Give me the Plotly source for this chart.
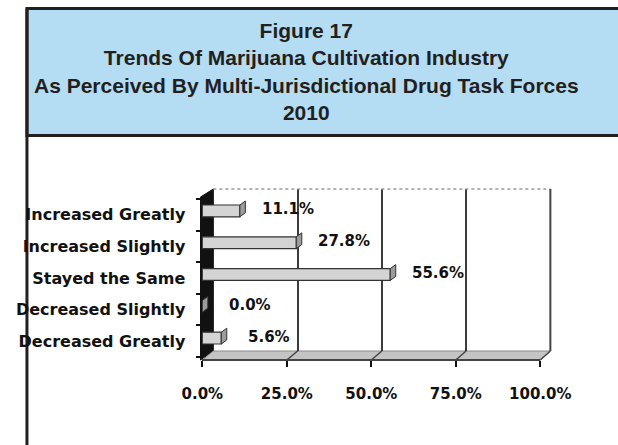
import plotly.graph_objects as go

# ---------------- data ----------------
categories = ["Increased Greatly", "Increased Slightly", "Stayed the Same",
              "Decreased Slightly", "Decreased Greatly"]
values = [11.1, 27.8, 55.6, 0.0, 5.6]          # percent
tick_values = [0, 25, 50, 75, 100]
tick_labels = ["0.0%", "25.0%", "50.0%", "75.0%", "100.0%"]
title_lines = ["Figure 17",
               "Trends Of Marijuana Cultivation Industry",
               "As Perceived By Multi-Jurisdictional Drug Task Forces",
               "2010"]

# ---------------- geometry helpers (pixels -> paper) ----------------
W, H = 618, 445
def px(x):
    return x / W
def py(y):
    return 1 - y / H

FRONT_X0, FRONT_X1 = 198, 567
BACK_X0, BACK_X1 = 210, 578
BACK_TOP, BACK_BOT = 189, 351
FRONT_TOP, FRONT_BOT = 197, 360

order = categories[::-1]
BAR_W = 0.37
LBL_FONT = dict(family="DejaVu Sans", size=15, color="#111111", weight="bold")

fig = go.Figure()
# back wall (gridlines only)
fig.add_trace(go.Scatter(x=[None], y=[None], xaxis="x", yaxis="y",
                         showlegend=False, hoverinfo="skip"))
# bars
fig.add_trace(go.Bar(x=values, y=categories, orientation="h", xaxis="x2", yaxis="y2",
                     width=BAR_W,
                     marker=dict(color="#d4d4d4", line=dict(color="#333333", width=1.2)),
                     showlegend=False, hoverinfo="skip"))
# category label axis carrier
fig.add_trace(go.Scatter(x=[0] * len(categories), y=categories, xaxis="x2", yaxis="y3",
                         mode="markers", marker=dict(opacity=0),
                         showlegend=False, hoverinfo="skip"))

shapes = []
# header box
shapes.append(dict(type="rect", xref="paper", yref="paper",
                   x0=px(6.5), x1=px(720), y0=py(135.5), y1=py(8.5),
                   line=dict(color="#231f20", width=3), fillcolor="#b4dcf3", layer="below"))
# left outer border
shapes.append(dict(type="line", xref="paper", yref="paper",
                   x0=px(6.5), x1=px(6.5), y0=py(8.5), y1=py(470),
                   line=dict(color="#231f20", width=3), layer="below"))
# left side wall (black)
shapes.append(dict(type="path", xref="paper", yref="paper",
                   path=f"M {px(FRONT_X0 - 2)},{py(FRONT_TOP)} L {px(BACK_X0)},{py(BACK_TOP)} "
                        f"L {px(BACK_X0)},{py(BACK_BOT)} L {px(FRONT_X0 - 2)},{py(FRONT_BOT)} Z",
                   fillcolor="#111111", line=dict(color="#111111", width=1), layer="below"))
# floor
shapes.append(dict(type="path", xref="paper", yref="paper",
                   path=f"M {px(FRONT_X0)},{py(FRONT_BOT)} L {px(BACK_X0)},{py(BACK_BOT)} "
                        f"L {px(BACK_X1)},{py(BACK_BOT)} L {px(FRONT_X1)},{py(FRONT_BOT)} Z",
                   fillcolor="#c4c4c4", line=dict(color="#8a8a8a", width=1), layer="below"))
for t in tick_values[1:]:
    bx = BACK_X0 + (BACK_X1 - BACK_X0) * t / 100
    fx = FRONT_X0 + (FRONT_X1 - FRONT_X0) * t / 100
    shapes.append(dict(type="line", xref="paper", yref="paper",
                       x0=px(bx), y0=py(BACK_BOT), x1=px(fx), y1=py(FRONT_BOT),
                       line=dict(color="#444444", width=1.5), layer="below"))
# back wall top dotted edge + right edge
shapes.append(dict(type="line", xref="x domain", yref="y domain", x0=0, x1=1, y0=1, y1=1,
                   line=dict(color="#9a9a9a", width=1.5, dash="dot")))
shapes.append(dict(type="line", xref="x domain", yref="y domain", x0=1, x1=1, y0=0, y1=1,
                   line=dict(color="#444444", width=2)))
# bar end caps (3-D right faces)
dx = 6 * 100 / (FRONT_X1 - FRONT_X0)
dy = 4 / 31.8
h = BAR_W / 2
for c, v in zip(categories, values):
    yi = order.index(c)
    shapes.append(dict(type="path", xref="x2", yref="y2",
                       path=f"M {v},{yi - h} L {v + dx},{yi - h + dy} L {v + dx},{yi + h + dy} L {v},{yi + h} Z",
                       fillcolor="#9c9c9c", line=dict(color="#333333", width=1)))

annotations = [dict(xref="paper", yref="paper", x=px(312), y=py(71),
                    xanchor="center", yanchor="middle", showarrow=False,
                    text="<br>".join(title_lines),
                    font=dict(family="Liberation Sans", size=21, color="#231f20", weight="bold"))]
for c, v in zip(categories, values):
    annotations.append(dict(xref="x2", yref="y2", x=v, y=c, text=f"{v:.1f}%",
                            showarrow=False, xanchor="center", yanchor="middle",
                            xshift=48, yshift=1.5, font=LBL_FONT))

fig.update_layout(
    width=W, height=H, autosize=False,
    margin=dict(l=0, r=0, t=0, b=0),
    paper_bgcolor="white", plot_bgcolor="rgba(0,0,0,0)",
    showlegend=False,
    shapes=shapes, annotations=annotations,
    xaxis=dict(domain=[px(BACK_X0), px(BACK_X1)], anchor="y", range=[0, 100],
               tickvals=tick_values, showgrid=True, gridcolor="#3c3c3c", gridwidth=1.8,
               showticklabels=False, ticks="", zeroline=False, showline=False, fixedrange=True),
    yaxis=dict(domain=[py(BACK_BOT), py(BACK_TOP)], anchor="x", range=[0, 1], visible=False),
    xaxis2=dict(domain=[px(FRONT_X0), px(FRONT_X1)], anchor="free", position=py(FRONT_BOT),
                range=[0, 100], tickvals=tick_values, ticktext=tick_labels,
                ticks="outside", ticklen=6, tickwidth=2, tickcolor="#111111",
                showline=True, linecolor="#444444", linewidth=1.5,
                showgrid=False, zeroline=False, ticklabelstandoff=14, tickfont=LBL_FONT),
    yaxis2=dict(domain=[py(354), py(195)], anchor="x2", type="category",
                categoryorder="array", categoryarray=order, range=[-0.5, len(order) - 0.5],
                showticklabels=False, ticks="", showgrid=False, zeroline=False, showline=False),
    yaxis3=dict(domain=[py(357), py(199)], anchor="x2", type="category",
                categoryorder="array", categoryarray=order, range=[-0.5, len(order) - 0.5],
                ticks="outside", tickson="boundaries", ticklen=5, tickwidth=2, tickcolor="#111111",
                showticklabels=True, ticklabelstandoff=16,
                tickfont=dict(family="DejaVu Sans", size=16, color="#111111", weight="bold"),
                showgrid=False, zeroline=False, showline=False),
)

fig.write_html("out.html", config={"displayModeBar": False},
               post_script="document.body.style.margin='0';document.body.style.overflow='hidden';")
